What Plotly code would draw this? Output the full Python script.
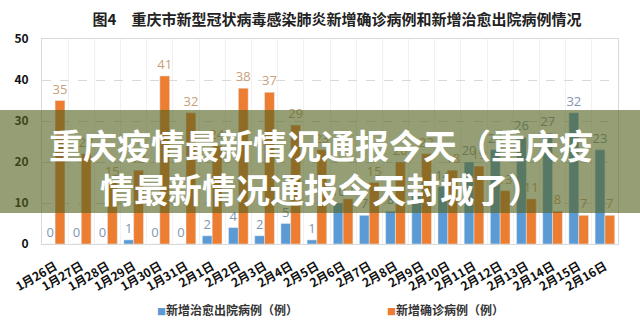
import plotly.graph_objects as go

# Daily figures, Chongqing, 26 Jan - 16 Feb
dates = ["1月26日", "1月27日", "1月28日", "1月29日", "1月30日", "1月31日",
         "2月1日", "2月2日", "2月3日", "2月4日", "2月5日", "2月6日", "2月7日",
         "2月8日", "2月9日", "2月10日", "2月11日", "2月12日", "2月13日",
         "2月14日", "2月15日", "2月16日"]
discharged = [0, 0, 0, 1, 0, 0, 2, 4, 2, 5, 1, 10, 7, 8, 12, 14, 20, 23, 26, 27, 32, 23]
confirmed = [35, 22, 15, 18, 41, 32, 24, 38, 37, 29, 23, 11, 15, 20, 22, 18, 19, 13, 11, 8, 7, 7]

name_discharged = "新增治愈出院病例（例）"
name_confirmed = "新增确诊病例（例）"
title_text = "图4　重庆市新型冠状病毒感染肺炎新增确诊病例和新增治愈出院病例情况"
banner_text = "重庆疫情最新情况通报今天（重庆疫<br>情最新情况通报今天封城了）"

BLUE = "#5b9bd5"
ORANGE = "#ed7d31"
CJK = "Noto Sans CJK SC"

fig = go.Figure()
fig.add_trace(go.Bar(
    x=dates, y=discharged, name=name_discharged, marker_color=BLUE,
    text=discharged, textposition="outside", cliponaxis=False,
    constraintext="none",
    textfont=dict(family="Open Sans", size=13, color="#8096b0"),
))
fig.add_trace(go.Bar(
    x=dates, y=confirmed, name=name_confirmed, marker_color=ORANGE,
    text=confirmed, textposition="outside", cliponaxis=False,
    constraintext="none",
    textfont=dict(family="Open Sans", size=13, color="#c99f7a"),
))

L, R, T, B = 42, 22, 39, 80
W, H = 640, 324
pw, ph = W - L - R, H - T - B

def px_x(p):
    return (p - L) / pw

def px_y(p):
    return (H - B - p) / ph

fig.update_layout(
    width=W, height=H,
    margin=dict(l=L, r=R, t=T, b=B),
    paper_bgcolor="white", plot_bgcolor="white",
    barmode="group", bargap=0.25, bargroupgap=0.0,
    showlegend=False,
    title=dict(text=title_text, x=337 / W, xanchor="center",
               y=1 - 20 / H, yanchor="middle",
               font=dict(family=CJK, size=15, color="#222222", weight="bold")),
    xaxis=dict(
        type="category", tickangle=-30, tickson="boundaries",
        showgrid=True, gridcolor="#f1f1f1", gridwidth=1,
        showline=True, linecolor="#d9d9d9", mirror=True,
        ticks="", ticklabelstandoff=10,
        tickfont=dict(family=CJK, size=12, color="#111111", weight="bold"),
    ),
    yaxis=dict(
        range=[0, 50], dtick=10,
        showgrid=True, gridcolor="#d9d9d9", griddash="dash", gridwidth=1,
        showline=True, linecolor="#d9d9d9", mirror=True,
        zeroline=False, ticks="", ticklabelstandoff=10,
        tickfont=dict(family=CJK, size=12, color="#111111", weight="bold"),
    ),
)

# Legend entries
legend_items = [(155, BLUE, name_discharged), (385, ORANGE, name_confirmed)]
for xpix, col, label in legend_items:
    fig.add_annotation(
        xref="paper", yref="paper", x=px_x(xpix), y=px_y(309),
        xanchor="left", yanchor="middle", showarrow=False,
        text=f"<span style='color:{col};font-size:9px'>■</span>{label}",
        font=dict(family=CJK, size=12, color="#333333", weight="bold"),
    )

# Headline band across the chart
fig.add_shape(type="rect", xref="paper", yref="paper",
              x0=px_x(0), x1=px_x(W), y0=px_y(213), y1=px_y(110),
              fillcolor="rgba(84,98,30,0.62)", line_width=0, layer="above")
fig.add_annotation(
    xref="paper", yref="paper", x=px_x(321), y=px_y(166),
    xanchor="center", yanchor="middle", showarrow=False,
    text=banner_text, align="center",
    font=dict(family=CJK, size=34, color="white", weight="bold"),
)

fig.write_html("out.html")
